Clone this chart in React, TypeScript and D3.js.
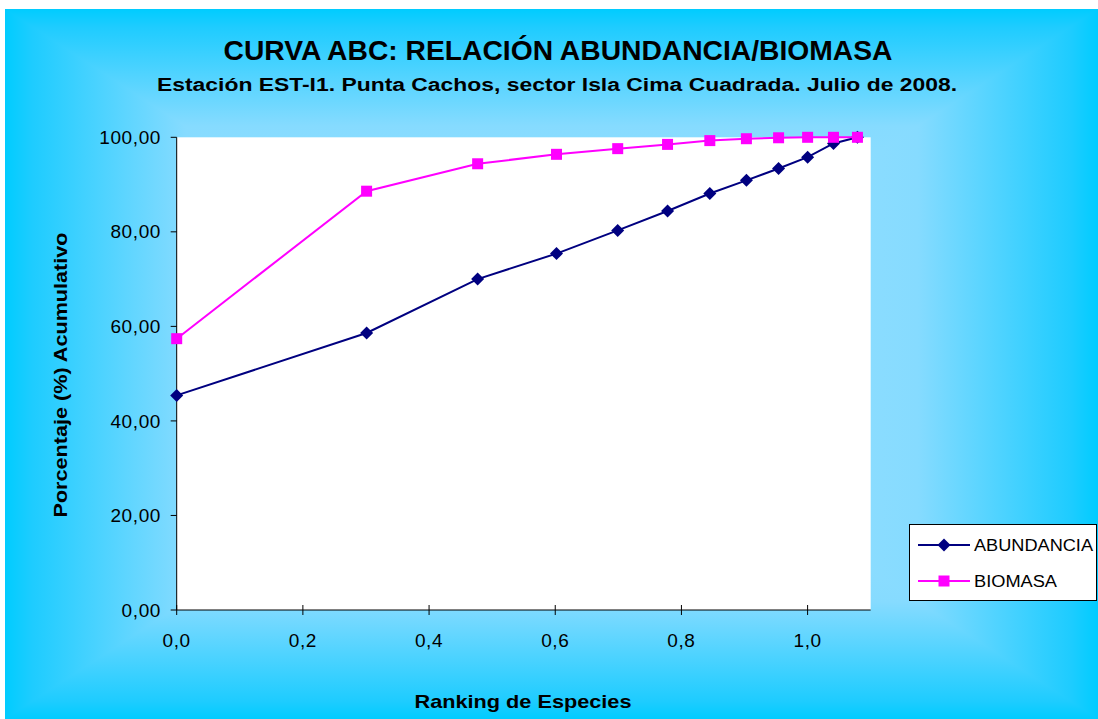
import * as d3 from "d3";

const rankLog = [0, 0.301, 0.477, 0.602, 0.699, 0.778, 0.845, 0.903, 0.954, 1.0, 1.041, 1.079];
const abundancia = [45.4, 58.6, 70.0, 75.4, 80.3, 84.4, 88.1, 90.9, 93.4, 95.8, 98.7, 100];
const biomasa = [57.4, 88.6, 94.4, 96.4, 97.6, 98.5, 99.3, 99.7, 99.9, 100, 100, 100];
const yTicks = [0, 20, 40, 60, 80, 100];
const xTicks = [0, 0.2, 0.4, 0.6, 0.8, 1.0];

const W = 1098;
const H = 719;
const FONT = "'Liberation Sans', Arial, sans-serif";

const locale = d3.formatLocale({ decimal: ",", thousands: ".", grouping: [3], currency: ["", ""] });
const fmtY = locale.format(".2f");
const fmtX = locale.format(".1f");

// chart background box
const bg = { x0: 5, y0: 9, x1: 1098, y1: 719 };
const plot = { left: 176.7, right: 870.7, top: 137.3, bottom: 610 };

const App = () => {
  const x = d3.scaleLinear().domain([0, 1.1]).range([plot.left, plot.right]);
  const y = d3.scaleLinear().domain([0, 100]).range([plot.bottom, plot.top]);

  const line = d3
    .line<number>()
    .x((_, i) => x(rankLog[i]))
    .y((d) => y(d));

  const cx = (bg.x0 + bg.x1) / 2;
  const cy = (bg.y0 + bg.y1) / 2;

  // "from center" rectangular gradient built from 4 triangles
  const stops = (
    <>
      <stop offset="0" stopColor="#00CCFF" />
      <stop offset="0.05" stopColor="#1ECCFF" />
      <stop offset="0.33" stopColor="#86DBFF" />
      <stop offset="1" stopColor="#A6E5FF" />
    </>
  );

  const diamond = (px: number, py: number, r = 6.5) =>
    `M${px},${py - r}L${px + r},${py}L${px},${py + r}L${px - r},${py}Z`;

  return (
    <svg width={W} height={H} style={{ position: "absolute", left: 0, top: 0 }} fontFamily={FONT}>
      <defs>
        <linearGradient id="gTop" gradientUnits="userSpaceOnUse" x1={0} y1={bg.y0} x2={0} y2={cy}>{stops}</linearGradient>
        <linearGradient id="gBot" gradientUnits="userSpaceOnUse" x1={0} y1={bg.y1} x2={0} y2={cy}>{stops}</linearGradient>
        <linearGradient id="gLeft" gradientUnits="userSpaceOnUse" x1={bg.x0} y1={0} x2={cx} y2={0}>{stops}</linearGradient>
        <linearGradient id="gRight" gradientUnits="userSpaceOnUse" x1={bg.x1} y1={0} x2={cx} y2={0}>{stops}</linearGradient>
      </defs>

      <rect x={0} y={0} width={W} height={H} fill="#fff" />
      <g shapeRendering="crispEdges">
        <rect x={bg.x0} y={bg.y0} width={bg.x1 - bg.x0} height={bg.y1 - bg.y0} fill="#7AD8FF" />
        <polygon points={`${bg.x0},${bg.y0} ${bg.x1},${bg.y0} ${cx},${cy}`} fill="url(#gTop)" />
        <polygon points={`${bg.x0},${bg.y1} ${bg.x1},${bg.y1} ${cx},${cy}`} fill="url(#gBot)" />
        <polygon points={`${bg.x0},${bg.y0} ${bg.x0},${bg.y1} ${cx},${cy}`} fill="url(#gLeft)" />
        <polygon points={`${bg.x1},${bg.y0} ${bg.x1},${bg.y1} ${cx},${cy}`} fill="url(#gRight)" />
      </g>

      {/* titles */}
      <text x={558} y={60} textAnchor="middle" fontSize={27} fontWeight="bold" textLength={669} lengthAdjust="spacingAndGlyphs">
        CURVA ABC: RELACIÓN ABUNDANCIA/BIOMASA
      </text>
      <text x={557} y={91} textAnchor="middle" fontSize={18} fontWeight="bold" textLength={800} lengthAdjust="spacingAndGlyphs">
        Estación EST-I1. Punta Cachos, sector Isla Cima Cuadrada. Julio de 2008.
      </text>

      {/* plot area */}
      <rect x={plot.left} y={plot.top} width={plot.right - plot.left} height={plot.bottom - plot.top} fill="#fff" />

      {/* y axis */}
      <line x1={plot.left} x2={plot.left} y1={plot.top} y2={plot.bottom} stroke="#000" />
      {yTicks.map((t) => (
        <g key={t}>
          <line x1={plot.left - 6} x2={plot.left} y1={y(t)} y2={y(t)} stroke="#000" />
          <text x={161} y={y(t)} dy="0.35em" textAnchor="end" fontSize={19} letterSpacing={0.6}>
            {fmtY(t)}
          </text>
        </g>
      ))}

      {/* x axis */}
      <line x1={plot.left} x2={plot.right} y1={plot.bottom} y2={plot.bottom} stroke="#000" />
      {xTicks.map((t) => (
        <g key={t}>
          <line x1={x(t)} x2={x(t)} y1={plot.bottom - 5} y2={plot.bottom + 5} stroke="#000" />
          <text x={x(t)} y={647} textAnchor="middle" fontSize={19} letterSpacing={0.6}>
            {fmtX(t)}
          </text>
        </g>
      ))}

      <text x={523} y={708} textAnchor="middle" fontSize={19} fontWeight="bold" textLength={217} lengthAdjust="spacingAndGlyphs">
        Ranking de Especies
      </text>
      <text
        transform={`translate(67,375) rotate(-90)`}
        textAnchor="middle"
        fontSize={18}
        fontWeight="bold"
        textLength={285}
        lengthAdjust="spacingAndGlyphs"
      >
        Porcentaje (%) Acumulativo
      </text>

      {/* series */}
      <path d={line(abundancia) || ""} fill="none" stroke="#000080" strokeWidth={2} />
      {abundancia.map((v, i) => (
        <path key={"a" + i} d={diamond(x(rankLog[i]), y(v))} fill="#000080" />
      ))}
      <path d={line(biomasa) || ""} fill="none" stroke="#FF00FF" strokeWidth={2} />
      {biomasa.map((v, i) => (
        <rect key={"b" + i} x={x(rankLog[i]) - 5.5} y={y(v) - 5.5} width={11} height={11} fill="#FF00FF" />
      ))}

      {/* legend */}
      <rect x={909.5} y={524.5} width={187} height={76} fill="#fff" stroke="#000" />
      <line x1={918} x2={970} y1={545} y2={545} stroke="#000080" strokeWidth={2} />
      <path d={diamond(944, 545)} fill="#000080" />
      <text x={974} y={545} dy="0.35em" fontSize={16} textLength={119} lengthAdjust="spacingAndGlyphs">
        ABUNDANCIA
      </text>
      <line x1={918} x2={970} y1={581} y2={581} stroke="#FF00FF" strokeWidth={2} />
      <rect x={938.5} y={575.5} width={11} height={11} fill="#FF00FF" />
      <text x={974} y={581} dy="0.35em" fontSize={16} textLength={83} lengthAdjust="spacingAndGlyphs">
        BIOMASA
      </text>
    </svg>
  );
};

export default App;
